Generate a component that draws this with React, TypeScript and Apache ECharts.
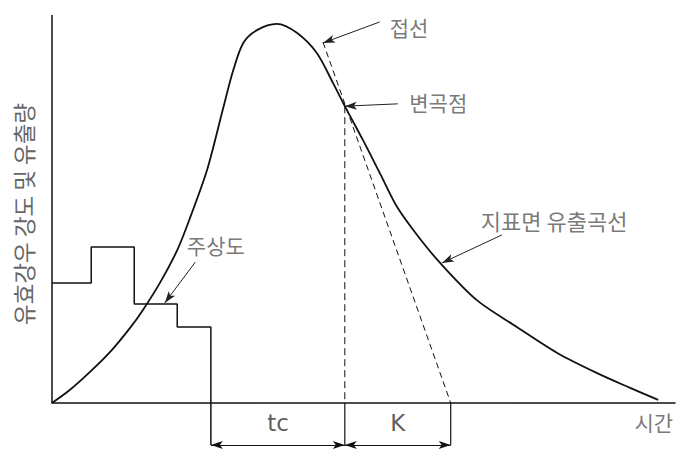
import React, { useEffect, useRef } from "react";
import * as echarts from "echarts";

// Surface runoff hydrograph (time units 0-100, flow units 0-100)
const curveT = [0, 2.9, 6.1, 9.3, 12.5, 14.6, 17.3, 20.1, 22.2, 24.9, 27.4, 29.1, 30.7, 32.9, 36.1, 39.3, 42.5, 45.1, 47.0, 49.9, 52.7, 55.4, 58.6, 62.3, 68.2, 74.6, 81.1, 87.5, 92.8, 97.3];
const curveQ = [0, 3.4, 8.0, 13.1, 19.3, 24.0, 30.9, 39.4, 47.9, 60.1, 75.5, 85.8, 92.8, 96.1, 97.7, 95.4, 90.2, 82.5, 76.5, 67.8, 59.0, 50.5, 43.3, 36.1, 26.5, 19.6, 12.9, 7.7, 3.9, 0.8];

// Hyetograph (effective rainfall blocks), last point is the extension line to the dimension line
const rainT = [0, 6.3, 6.3, 13.2, 13.2, 20.1, 20.1, 25.5, 25.5];
const rainQ = [30.9, 30.9, 40.2, 40.2, 25.5, 25.5, 19.6, 19.6, -10.8];

// Key times
const tcStart = 25.5;
const inflectionT = 47.0;
const inflectionQ = 76.5;
const kEnd = 64.0;
const dimQ = -10.8;
const tangentStart = [43.5, 93.0];

// Labels
const labelNames = ["접선", "변곡점", "지표면 유출곡선", "주상도"];
const labelPos = [[57.3, 96.9], [62.0, 77.6], [80.6, 47.2], [26.3, 40.7]];
const labelSizes = [21, 21, 22, 21];
const arrowFrom = [[52.6, 98.2], [55.5, 77.1], [72.2, 43.3], [23.0, 36.3]];
const arrowTo = [[43.5, 92.8], [47.0, 76.5], [62.6, 36.1], [18.1, 25.8]];
const dimLabels = ["tc", "K"];
const dimLabelPos = [[36.3, -5.2], [55.5, -5.2]];
const xTitle = "시간";
const xTitlePos = [96.6, -4.9];
const yTitle = "유효강우 강도 및 유출량";

const KR = "'Noto Sans CJK KR', 'Noto Sans', sans-serif";

export default function App() {
  const ref = useRef<HTMLDivElement>(null);
  useEffect(() => {
    if (!ref.current) return;
    const chart = echarts.init(ref.current, null, { renderer: "svg" });
    const black = "#111";
    const option: any = {
      animation: false,
      grid: { left: 52, right: 1, top: 15, bottom: 2.44 },
      xAxis: {
        type: "value", min: 0, max: 100,
        axisLine: { show: true, onZero: true, lineStyle: { color: black, width: 1.5 } },
        axisTick: { show: false }, axisLabel: { show: false }, splitLine: { show: false },
      },
      yAxis: {
        type: "value", min: -12, max: 100,
        axisLine: { show: false }, axisTick: { show: false }, axisLabel: { show: false }, splitLine: { show: false },
      },
      graphic: [
        {
          type: "text", x: 23, y: 214, rotation: Math.PI / 2,
          style: { text: yTitle, fontSize: 22.5, fontFamily: KR, fill: "#666", align: "center", verticalAlign: "middle", textAlign: "center", textVerticalAlign: "middle" },
        },
      ],
      series: [
        {
          type: "line", name: "yaxis", data: [[0, 0], [0, 100]], symbol: "none",
          lineStyle: { color: black, width: 1.5 }, silent: true,
        },
        {
          type: "line", name: "runoff", data: curveT.map((t, i) => [t, curveQ[i]]), smooth: 0.3, symbol: "none",
          lineStyle: { color: black, width: 1.8 }, silent: true, clip: false,
        },
        {
          type: "line", name: "rain", data: rainT.map((t, i) => [t, rainQ[i]]), symbol: "none",
          lineStyle: { color: black, width: 1.5 }, silent: true, clip: false,
        },
        {
          type: "line", name: "tangent", data: [tangentStart, [kEnd, 0]], symbol: "none",
          lineStyle: { color: black, width: 1, type: [6, 4] }, silent: true, clip: false,
        },
        {
          type: "line", name: "inflection", data: [[inflectionT, inflectionQ], [inflectionT, 0]], symbol: "none",
          lineStyle: { color: black, width: 1, type: [7, 4] }, silent: true, clip: false,
        },
        {
          type: "line", name: "ext1", data: [[inflectionT, 0], [inflectionT, dimQ]], symbol: "none",
          lineStyle: { color: black, width: 1.2 }, silent: true, clip: false,
        },
        {
          type: "line", name: "ext2", data: [[kEnd, 0], [kEnd, dimQ]], symbol: "none",
          lineStyle: { color: black, width: 1.2 }, silent: true, clip: false,
          markLine: {
            silent: true, label: { show: false }, symbol: ["arrow", "arrow"], symbolSize: [6, 12],
            lineStyle: { color: black, width: 1.2, type: "solid" },
            emphasis: { disabled: true },
            data: [
              [{ coord: [tcStart, dimQ] }, { coord: [inflectionT, dimQ] }],
              [{ coord: [inflectionT, dimQ] }, { coord: [kEnd, dimQ] }],
            ],
          },
        },
        {
          type: "line", name: "arrows", data: [], symbol: "none", silent: true, clip: false,
          markLine: {
            silent: true, label: { show: false }, symbol: ["none", "arrow"], symbolSize: [6, 12],
            lineStyle: { color: "#222", width: 1, type: "solid" },
            emphasis: { disabled: true },
            data: arrowFrom.map((f, i) => [{ coord: f }, { coord: arrowTo[i] }]),
          },
        },
        {
          type: "scatter", name: "labels", symbolSize: 0, silent: true, clip: false,
          data: labelNames.map((n, i) => ({ name: n, value: labelPos[i], label: { fontSize: labelSizes[i] } })),
          label: { show: true, position: "inside", formatter: "{b}", color: "#555", fontSize: 21, fontFamily: KR },
        },
        {
          type: "scatter", name: "dimlabels", symbolSize: 0, silent: true, clip: false,
          data: dimLabels.map((n, i) => ({ name: n, value: dimLabelPos[i] })),
          label: { show: true, position: "inside", formatter: "{b}", color: "#333", fontSize: 23, fontFamily: "'DejaVu Sans', sans-serif" },
        },
        {
          type: "scatter", name: "xtitle", symbolSize: 0, silent: true, clip: false,
          data: [{ name: xTitle, value: xTitlePos }],
          label: { show: true, position: "inside", formatter: "{b}", color: "#555", fontSize: 21, fontFamily: KR },
        },
      ],
    };
    chart.setOption(option);
    return () => chart.dispose();
  }, []);
  return <div ref={ref} style={{ position: "fixed", left: 0, top: 0, width: 676, height: 452, background: "#fff" }} />;
}
